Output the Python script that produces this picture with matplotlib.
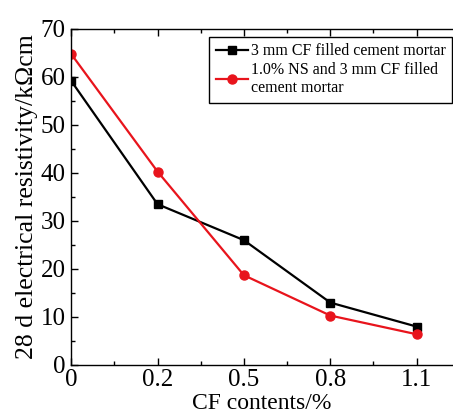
import numpy as np
import matplotlib
matplotlib.use('Agg')
import matplotlib.pyplot as plt
from matplotlib.ticker import MultipleLocator

cf_labels = ['0', '0.2', '0.5', '0.8', '1.1']
cf_mortar = [59.2, 33.5, 26.0, 13.0, 8.0]
ns_cf_mortar = [64.8, 40.3, 18.7, 10.3, 6.4]


def main():
    plt.rcParams['font.family'] = ['Liberation Serif', 'DejaVu Serif']

    fig = plt.figure(figsize=(4.53, 4.16), dpi=100)
    ax = fig.add_axes([0.157, 0.1226, 0.841, 0.8078])

    x = np.arange(len(cf_labels))
    ax.plot(x, cf_mortar, color='black', marker='s', markersize=6, linewidth=1.6,
            label='3 mm CF filled cement mortar')
    ax.plot(x, ns_cf_mortar, color='#e8141c', marker='o', markersize=6.5, linewidth=1.6,
            label='1.0% NS and 3 mm CF filled\ncement mortar')

    ax.set_xlim(0, 4.41)
    ax.set_ylim(0, 70)
    ax.set_xticks(x)
    ax.set_xticklabels(cf_labels)
    ax.xaxis.set_minor_locator(MultipleLocator(0.5))
    ax.yaxis.set_major_locator(MultipleLocator(10))
    ax.yaxis.set_minor_locator(MultipleLocator(5))

    ax.tick_params(which='both', direction='in', top=True, right=False, width=1.0)
    ax.tick_params(which='major', length=5, labelsize=18, pad=4)
    ax.tick_params(axis='x', which='major', pad=3)
    ax.tick_params(which='minor', length=3)
    ax.spines['right'].set_visible(False)
    for s in ['left', 'bottom', 'top']:
        ax.spines[s].set_linewidth(1.0)

    ax.set_xlabel('CF contents/%', fontsize=17, labelpad=1)
    ax.set_ylabel('28 d electrical resistivity/k\u03a9cm', fontsize=18.5, labelpad=2)

    leg = ax.legend(loc='upper right', bbox_to_anchor=(1.0, 0.976), borderaxespad=0,
                    fontsize=11.5, fancybox=False, edgecolor='black', framealpha=1,
                    handlelength=2.0, handletextpad=0.2, labelspacing=0.15,
                    borderpad=0.4)
    leg.get_frame().set_linewidth(1.0)

    plt.savefig('out.png', dpi=100)
    plt.clf()


if __name__ == '__main__':
    main()
